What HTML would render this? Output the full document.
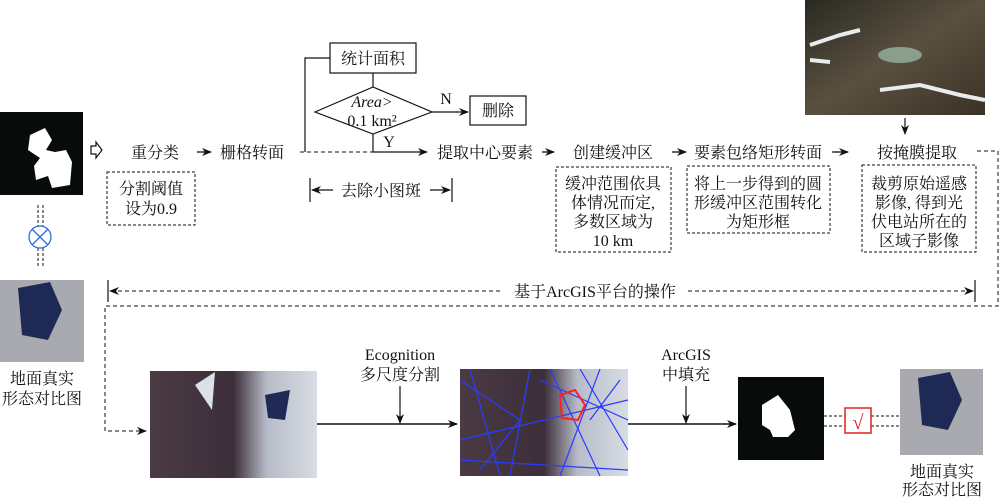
<!DOCTYPE html>
<html><head><meta charset="utf-8"><style>
body{margin:0;background:#fff}
svg text{font-family:"Liberation Serif","Noto Serif CJK SC","Noto Sans CJK SC",serif;font-size:16px;fill:#111}
</style></head><body>
<svg width="1000" height="498" viewBox="0 0 1000 498" xmlns="http://www.w3.org/2000/svg">
<defs>
<marker id="a" markerWidth="10" markerHeight="8" refX="9" refY="4" orient="auto" markerUnits="userSpaceOnUse"><path d="M0,0 L10,4 L0,8 L3,4z" fill="#111"/></marker>
<linearGradient id="sat" x1="0" y1="0" x2="1" y2="1"><stop offset="0" stop-color="#2a2a22"/><stop offset=".5" stop-color="#5a5040"/><stop offset="1" stop-color="#3a3226"/></linearGradient>
<linearGradient id="g1" x1="0" y1="0" x2="1" y2="0"><stop offset="0" stop-color="#4a3a44"/><stop offset=".5" stop-color="#3c2f3a"/><stop offset=".7" stop-color="#b8bcc8"/><stop offset="1" stop-color="#d8dce4"/></linearGradient>
</defs>
<rect x="0" y="112" width="83" height="83" fill="#070b0a"/>
<path d="M30,135 L45,128 L52,140 L46,150 L55,152 L66,150 L72,162 L70,185 L52,188 L48,176 L36,180 L34,166 L40,158 L28,150z" fill="#fff"/>
<rect x="0" y="280" width="84" height="82" fill="#a8aab0"/>
<path d="M18,288 L50,282 L62,310 L48,340 L22,335z" fill="#1e2a55"/>
<g stroke="#111" stroke-width="1" stroke-dasharray="3,2"><line x1="38" y1="205" x2="38" y2="227"/><line x1="43" y1="205" x2="43" y2="227"/><line x1="38" y1="248" x2="38" y2="268"/><line x1="43" y1="248" x2="43" y2="268"/></g>
<circle cx="40" cy="237" r="11" fill="none" stroke="#2d6be0" stroke-width="1.3"/>
<path d="M32,229 L48,245 M48,229 L32,245" stroke="#2d6be0" stroke-width="1.3"/>
<text x="42" y="384" text-anchor="middle">地面真实</text>
<text x="42" y="404" text-anchor="middle">形态对比图</text>
<path d="M91,146 L96,146 L96,142 L102,150 L96,158 L96,154 L91,154z" fill="none" stroke="#111" stroke-width="1.2"/>
<text x="155" y="158" text-anchor="middle">重分类</text>
<line x1="197" y1="152" x2="211" y2="152" stroke="#111" stroke-width="1.3" marker-end="url(#a)"/>
<text x="252" y="158" text-anchor="middle">栅格转面</text>
<rect x="107" y="172" width="88" height="53" fill="none" stroke="#111" stroke-dasharray="3,2"/>
<text x="151" y="194" text-anchor="middle">分割阈值</text>
<text x="151" y="214" text-anchor="middle">设为0.9</text>
<line x1="300" y1="152" x2="373" y2="152" stroke="#111" stroke-dasharray="4,3"/>
<path d="M305,152 L305,58 L330,58" fill="none" stroke="#111" stroke-width="1.2"/>
<rect x="330" y="43" width="86" height="30" fill="#fff" stroke="#111" stroke-width="1.2"/>
<text x="373" y="64" text-anchor="middle">统计面积</text>
<line x1="373" y1="73" x2="373" y2="87" stroke="#111" stroke-width="1.2"/>
<path d="M315,112 L373,87 L432,112 L373,134z" fill="#fff" stroke="#111" stroke-width="1.2"/>
<text x="372" y="107" text-anchor="middle" font-style="italic">Area&gt;</text>
<text x="372" y="126" text-anchor="middle">0.1 km²</text>
<line x1="432" y1="112" x2="468" y2="112" stroke="#111" stroke-width="1.2" marker-end="url(#a)"/>
<text x="446" y="104" text-anchor="middle">N</text>
<rect x="470" y="96" width="56" height="29" fill="#fff" stroke="#111" stroke-width="1.2"/>
<text x="498" y="116" text-anchor="middle">删除</text>
<path d="M373,134 L373,152 L427,152" fill="none" stroke="#111" stroke-width="1.2" marker-end="url(#a)"/>
<text x="389" y="147" text-anchor="middle">Y</text>
<text x="485" y="158" text-anchor="middle">提取中心要素</text>
<line x1="310" y1="178" x2="310" y2="202" stroke="#111" stroke-width="1.2"/>
<line x1="452" y1="178" x2="452" y2="202" stroke="#111" stroke-width="1.2"/>
<line x1="333" y1="190" x2="312" y2="190" stroke="#111" stroke-width="1.2" marker-end="url(#a)"/>
<line x1="430" y1="190" x2="450" y2="190" stroke="#111" stroke-width="1.2" marker-end="url(#a)"/>
<text x="381" y="196" text-anchor="middle">去除小图斑</text>
<line x1="542" y1="152" x2="554" y2="152" stroke="#111" stroke-width="1.3" marker-end="url(#a)"/>
<text x="613" y="158" text-anchor="middle">创建缓冲区</text>
<line x1="672" y1="152" x2="686" y2="152" stroke="#111" stroke-width="1.3" marker-end="url(#a)"/>
<text x="758" y="158" text-anchor="middle">要素包络矩形转面</text>
<line x1="832" y1="152" x2="848" y2="152" stroke="#111" stroke-width="1.3" marker-end="url(#a)"/>
<text x="917" y="158" text-anchor="middle">按掩膜提取</text>
<rect x="805" y="0" width="180" height="115" fill="url(#sat)"/>
<path d="M810,45 L840,35 L860,30 M810,60 L830,62 M880,90 L920,85 L960,95 L985,100" stroke="#e8ecef" stroke-width="4" fill="none"/>
<ellipse cx="900" cy="55" rx="22" ry="8" fill="#8a9e8c"/>
<line x1="905" y1="118" x2="905" y2="134" stroke="#111" stroke-width="1.2" marker-end="url(#a)"/>
<rect x="556" y="167" width="115" height="85" fill="none" stroke="#111" stroke-dasharray="3,2"/>
<text x="613" y="189" text-anchor="middle">缓冲范围依具</text>
<text x="613" y="208" text-anchor="middle">体情况而定,</text>
<text x="613" y="227" text-anchor="middle">多数区域为</text>
<text x="613" y="246" text-anchor="middle">10 km</text>
<rect x="687" y="166" width="143" height="67" fill="none" stroke="#111" stroke-dasharray="3,2"/>
<text x="758" y="189" text-anchor="middle">将上一步得到的圆</text>
<text x="758" y="208" text-anchor="middle">形缓冲区范围转化</text>
<text x="758" y="227" text-anchor="middle">为矩形框</text>
<rect x="862" y="165" width="114" height="87" fill="none" stroke="#111" stroke-dasharray="3,2"/>
<text x="919" y="189" text-anchor="middle">裁剪原始遥感</text>
<text x="919" y="208" text-anchor="middle">影像, 得到光</text>
<text x="919" y="227" text-anchor="middle">伏电站所在的</text>
<text x="919" y="246" text-anchor="middle">区域子影像</text>
<line x1="108" y1="280" x2="108" y2="302" stroke="#111" stroke-width="1.2"/>
<line x1="975" y1="280" x2="975" y2="302" stroke="#111" stroke-width="1.2"/>
<line x1="500" y1="291" x2="110" y2="291" stroke="#111" stroke-dasharray="4,3" marker-end="url(#a)"/>
<line x1="688" y1="291" x2="973" y2="291" stroke="#111" stroke-dasharray="4,3" marker-end="url(#a)"/>
<text x="595" y="297" text-anchor="middle">基于ArcGIS平台的操作</text>
<path d="M977,151 L998,151 L998,306 L105,306 L105,431 L146,431" fill="none" stroke="#111" stroke-dasharray="4,3" marker-end="url(#a)"/>
<rect x="150" y="371" width="167" height="107" fill="url(#g1)"/>
<path d="M195,385 L215,372 L212,410z" fill="#dde0e6"/>
<path d="M265,395 L290,390 L285,420 L268,418z" fill="#1e2a55"/>
<line x1="317" y1="424" x2="457" y2="424" stroke="#111" stroke-width="1.5" marker-end="url(#a)"/>
<text x="400" y="360" text-anchor="middle">Ecognition</text>
<text x="400" y="380" text-anchor="middle">多尺度分割</text>
<line x1="400" y1="386" x2="400" y2="423" stroke="#111" stroke-width="1.2" marker-end="url(#a)"/>
<rect x="460" y="369" width="168" height="107" fill="url(#g1)"/>
<g stroke="#2a3cff" stroke-width="1.2" fill="none"><path d="M460,380 L520,420 L480,470 M470,369 L500,476 M530,369 L510,476 M460,440 L628,400 M550,369 L600,476 M580,369 L628,450 M460,460 L628,470 M540,380 L628,420 M600,369 L560,476 M620,380 L590,420"/></g>
<path d="M560,395 L575,390 L585,405 L578,420 L562,418z" fill="none" stroke="#ff2020" stroke-width="2"/>
<line x1="628" y1="424" x2="736" y2="424" stroke="#111" stroke-width="1.5" marker-end="url(#a)"/>
<text x="686" y="360" text-anchor="middle">ArcGIS</text>
<text x="686" y="380" text-anchor="middle">中填充</text>
<line x1="686" y1="386" x2="686" y2="423" stroke="#111" stroke-width="1.2" marker-end="url(#a)"/>
<rect x="738" y="377" width="86" height="83" fill="#070b0a"/>
<path d="M762,405 L778,395 L790,410 L795,430 L788,437 L773,437 L770,430 L762,425z" fill="#fff"/>
<g stroke="#111" stroke-dasharray="3,2"><line x1="824" y1="416" x2="845" y2="416"/><line x1="824" y1="426" x2="845" y2="426"/><line x1="871" y1="416" x2="900" y2="416"/><line x1="871" y1="426" x2="900" y2="426"/></g>
<rect x="845" y="408" width="26" height="25" fill="#fff" stroke="#e02020" stroke-width="1.5"/>
<text x="858" y="429" text-anchor="middle" style="font-size:20px;fill:#e02020">√</text>
<rect x="900" y="369" width="83" height="86" fill="#a8aab0"/>
<path d="M918,378 L950,372 L962,400 L948,430 L922,425z" fill="#1e2a55"/>
<text x="942" y="477" text-anchor="middle">地面真实</text>
<text x="942" y="495" text-anchor="middle">形态对比图</text>
</svg>
</body></html>
